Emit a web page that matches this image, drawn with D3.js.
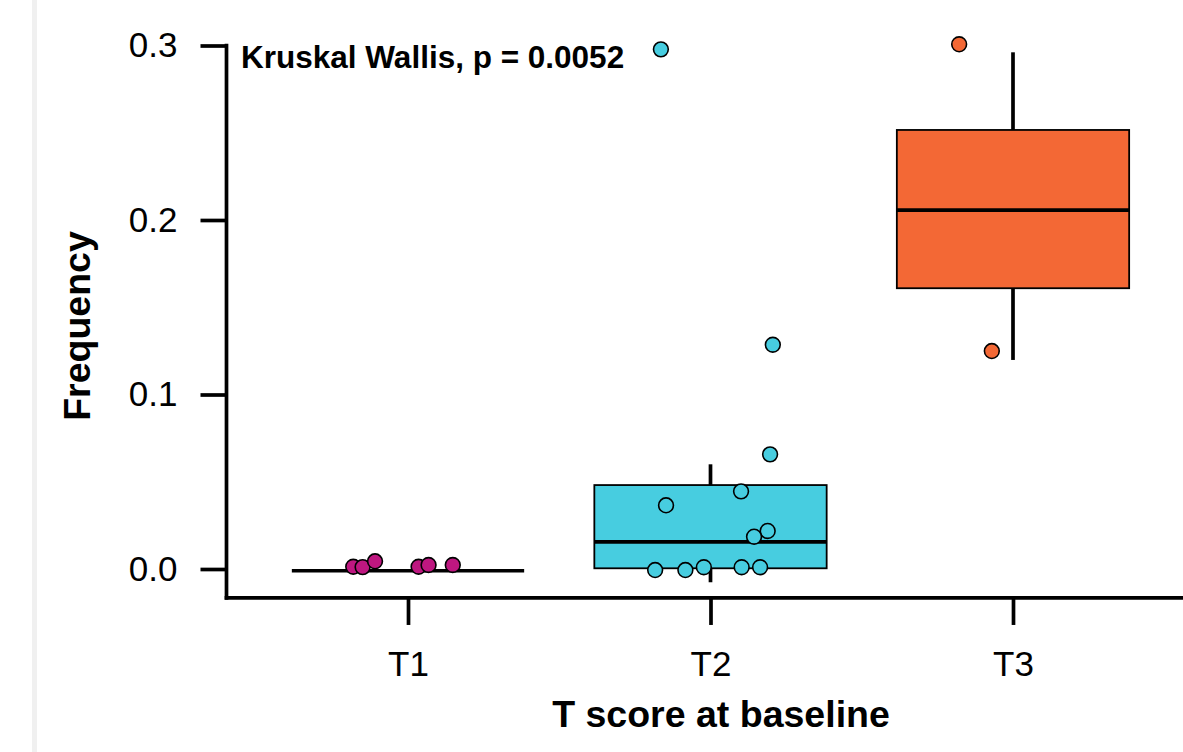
<!DOCTYPE html>
<html>
<head>
<meta charset="utf-8">
<script src="https://cdn.jsdelivr.net/npm/d3@7"></script>
<style>
  html, body { margin: 0; padding: 0; background: #ffffff; }
  svg { display: block; }
  text { font-family: "Liberation Sans", Arial, Helvetica, sans-serif; fill: #000; }
</style>
</head>
<body>
<svg id="chart" width="1183" height="752"></svg>
<script>
// ---------- data ----------
const categories = ["T1", "T2", "T3"];
const groupColors = ["#BE1780", "#47CDE0", "#F36835"];

// boxplot statistics per category
const whiskerLow  = [-0.001, -0.0076, 0.1198];
const boxQ1       = [-0.001,  0.0004, 0.1609];
const boxMedian   = [-0.001,  0.0156, 0.2057];
const boxQ3       = [-0.001,  0.0481, 0.2516];
const whiskerHigh = [-0.001,  0.0600, 0.2961];

// jittered points: category, horizontal jitter (in category units), value
const pointGroup = ["T1","T1","T1","T1","T1","T1",
                    "T2","T2","T2","T2","T2","T2","T2","T2","T2","T2","T2","T2",
                    "T3","T3"];
const pointJitter = [-0.181,-0.150,-0.109,0.035,0.068,0.148,
                     0.197,0.101,-0.147,0.189,0.144,-0.183,-0.083,-0.022,0.103,0.164,-0.164,0.206,
                     -0.178,-0.070];
const pointValue = [0.0013,0.0011,0.0044,0.0013,0.0023,0.0023,
                    0.0657,0.0445,0.0365,0.0218,0.0185,-0.0006,-0.0006,0.0010,0.0010,0.0010,0.2978,0.1285,
                    0.3007,0.1249];

const yTicks = [0.0, 0.1, 0.2, 0.3];
const xTitle = "T score at baseline";
const yTitle = "Frequency";
const annotation = "Kruskal Wallis, p = 0.0052";
const yBottomValue = -0.0166; // lower end of the panel

// ---------- layout ----------
const svg = d3.select("#chart");
const panelLeft = 226.5, panelRight = 1194.5;
const x = d3.scalePoint().domain(categories).range([panelLeft, panelRight]).padding(0.6);
const step = x.step();
const y = d3.scaleLinear().domain([0, 0.3]).range([569, 45.5]);
const color = d3.scaleOrdinal().domain(categories).range(groupColors);
const axisY = y(yBottomValue);
const lw = 3.7;

// left grey strip
svg.append("rect").attr("x", 32).attr("y", 0).attr("width", 5).attr("height", 752).attr("fill", "#f0f0f0");

// ---------- boxes ----------
const boxHalf = step * 0.384;
const boxes = svg.append("g");
categories.forEach((c, i) => {
  const cx = x(c);
  const g = boxes.append("g");
  g.append("line").attr("x1", cx).attr("x2", cx).attr("y1", y(boxQ3[i])).attr("y2", y(whiskerHigh[i]))
    .attr("stroke", "#000").attr("stroke-width", lw);
  g.append("line").attr("x1", cx).attr("x2", cx).attr("y1", y(boxQ1[i])).attr("y2", y(whiskerLow[i]))
    .attr("stroke", "#000").attr("stroke-width", lw);
  g.append("rect").attr("x", cx - boxHalf).attr("width", 2 * boxHalf)
    .attr("y", y(boxQ3[i])).attr("height", Math.max(0, y(boxQ1[i]) - y(boxQ3[i])))
    .attr("fill", color(c)).attr("stroke", "#000").attr("stroke-width", 1.8);
  g.append("line").attr("x1", cx - boxHalf).attr("x2", cx + boxHalf)
    .attr("y1", y(boxMedian[i])).attr("y2", y(boxMedian[i]))
    .attr("stroke", "#000").attr("stroke-width", lw);
});

// ---------- points ----------
svg.append("g").selectAll("circle")
  .data(pointValue.map((v, i) => ({ g: pointGroup[i], j: pointJitter[i], v })))
  .join("circle")
  .attr("cx", d => x(d.g) + d.j * step)
  .attr("cy", d => y(d.v))
  .attr("r", 7.4)
  .attr("fill", d => color(d.g))
  .attr("stroke", "#000")
  .attr("stroke-width", 1.6);

// ---------- axes ----------
const yAxis = d3.axisLeft(y).tickValues(yTicks).tickFormat(d3.format(".1f")).tickSize(26).tickPadding(23);
const gy = svg.append("g").attr("transform", `translate(${panelLeft},0)`).call(yAxis);
gy.select(".domain").remove();
gy.selectAll(".tick line").attr("stroke", "#000").attr("stroke-width", lw);
gy.selectAll(".tick text").attr("font-size", 35).attr("font-family", "Liberation Sans, Arial, sans-serif").attr("fill", "#000");

const xAxis = d3.axisBottom(x).tickSize(27).tickPadding(26);
const gx = svg.append("g").attr("transform", `translate(0,${axisY})`).call(xAxis);
gx.select(".domain").remove();
gx.selectAll(".tick line").attr("stroke", "#000").attr("stroke-width", lw);
gx.selectAll(".tick text").attr("font-size", 35).attr("font-family", "Liberation Sans, Arial, sans-serif").attr("fill", "#000");

// axis lines
svg.append("line").attr("x1", panelLeft).attr("x2", panelLeft)
  .attr("y1", y(0.3) - lw / 2).attr("y2", axisY + lw / 2)
  .attr("stroke", "#000").attr("stroke-width", lw);
svg.append("line").attr("x1", panelLeft - lw / 2).attr("x2", panelRight)
  .attr("y1", axisY).attr("y2", axisY)
  .attr("stroke", "#000").attr("stroke-width", lw);

// titles
svg.append("text").attr("x", 721).attr("y", 727).attr("text-anchor", "middle")
  .attr("font-size", 37.5).attr("font-weight", "bold").text(xTitle);
svg.append("text").attr("transform", "translate(90,326) rotate(-90)").attr("text-anchor", "middle")
  .attr("font-size", 37.5).attr("font-weight", "bold").text(yTitle);

// annotation
svg.append("text").attr("x", 241).attr("y", 67.5)
  .attr("font-size", 31.5).attr("font-weight", "bold").text(annotation);
</script>
</body>
</html>
